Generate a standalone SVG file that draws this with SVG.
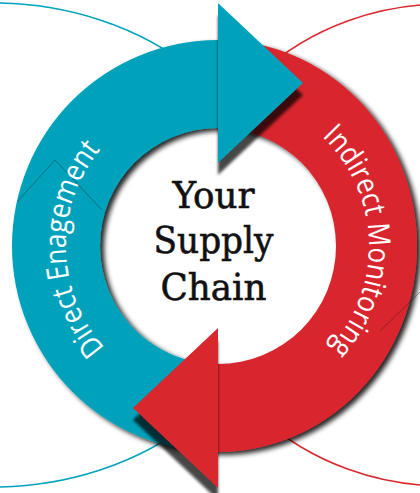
<svg xmlns="http://www.w3.org/2000/svg" width="420" height="493" viewBox="0 0 420 493">
<defs>
<style>
.thin{fill:none;stroke-width:1.6}
.ring-text{font-family:"Open Sans","DejaVu Sans",sans-serif;font-size:30px;fill:#ffffff}
.center-text{font-family:"DejaVu Serif","Liberation Serif",serif;font-size:37px;fill:#111111;stroke:#111111;stroke-width:0.6;text-anchor:middle}
.artifact{fill:none;stroke:#1a1a1a;stroke-width:0.7;stroke-opacity:0.55}
</style>
<filter id="ringShadow" x="-10%" y="-10%" width="125%" height="125%">
<feGaussianBlur in="SourceAlpha" stdDeviation="2.5"/>
<feOffset dx="4" dy="3" result="b"/>
<feComponentTransfer><feFuncA type="linear" slope="0.85"/></feComponentTransfer>
<feMerge><feMergeNode/><feMergeNode in="SourceGraphic"/></feMerge>
</filter>
<filter id="arrowShadow" x="-20%" y="-20%" width="140%" height="140%">
<feGaussianBlur stdDeviation="1.5"/>
</filter>
<path id="leftArc" d="M195,396.3 A152,152 0 0 1 188.2,96.95"/>
<path id="rightArc" d="M239,96.5 A151,151 0 0 1 249.4,393.7"/>
</defs>
<rect width="420" height="493" fill="#ffffff"/>
<g id="outer-arcs">
<ellipse class="thin" cx="-7" cy="245" rx="291" ry="242" stroke="#00a2bb"/>
<ellipse class="thin" cx="444" cy="245" rx="262" ry="241" stroke="#d9272e"/>
</g>
<circle id="hole" cx="218" cy="246" r="140" fill="#ffffff"/>
<g id="ring" filter="url(#ringShadow)">
<path id="blue-body" d="M218,40 A206,206 0 0 0 218,452 L218,364 A118,118 0 0 1 218,128 Z" fill="#00a2bb"/>
<path id="red-body" d="M218,452 A199,206 0 0 0 218,40 L218,128 A118,118 0 0 1 218,364 Z" fill="#d9272e"/>
</g>
<g id="connectors">
<polygon points="218,15 303,95 218,175" fill="#000000" opacity="0.72" filter="url(#arrowShadow)"/>
<polygon id="blue-arrowhead" points="218,3 303,83 218,163" fill="#00a2bb"/>
<polygon points="218,340 133,420 218,500" fill="#000000" opacity="0.72" filter="url(#arrowShadow)"/>
<polygon id="red-arrowhead" points="218,328 133,408 218,488" fill="#d9272e"/>
</g>
<g id="artifacts">
<polyline class="artifact" points="17,202 55,160 102,210"/>
<line class="artifact" x1="380" y1="331" x2="420" y2="292"/>
</g>
<g id="direct-engagement">
<text class="ring-text"><textPath href="#leftArc" startOffset="50%" text-anchor="middle" textLength="216" lengthAdjust="spacingAndGlyphs">Direct Enagement</textPath></text>
</g>
<g id="indirect-monitoring">
<text class="ring-text"><textPath href="#rightArc" startOffset="50%" text-anchor="middle" textLength="234" lengthAdjust="spacingAndGlyphs">Indirect Monitoring</textPath></text>
</g>
<g id="your-supply-chain">
<text class="center-text" x="213.5" y="208" textLength="82" lengthAdjust="spacingAndGlyphs">Your</text>
<text class="center-text" x="213.5" y="253" textLength="120" lengthAdjust="spacingAndGlyphs">Supply</text>
<text class="center-text" x="213.5" y="300" textLength="106" lengthAdjust="spacingAndGlyphs">Chain</text>
</g>
</svg>
